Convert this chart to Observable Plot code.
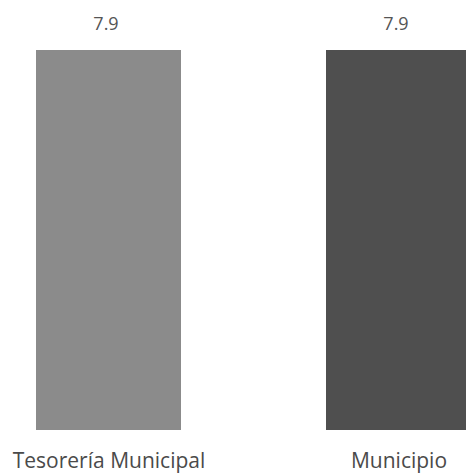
<!DOCTYPE html>
<html>
<head>
<meta charset="utf-8">
<script src="https://cdn.jsdelivr.net/npm/d3@7"></script>
<script src="https://cdn.jsdelivr.net/npm/@observablehq/plot@0.6"></script>
<style>
  html, body { margin: 0; padding: 0; background: #fff; overflow: hidden; }
  #chart svg { display: block; }
</style>
</head>
<body>
<div id="chart"></div>
<script>
const categories = ["Tesorería Municipal", "Municipio"];
const values = [7.9, 7.9];
const labels = ["7.9", "7.9"];
const colors = ["#8b8b8b", "#4f4f4f"];

const data = categories.map((c, i) => ({category: c, value: values[i], label: labels[i], color: colors[i]}));

const chart = Plot.plot({
  width: 466,
  height: 476,
  marginTop: 50,
  marginBottom: 46,
  marginLeft: 0,
  marginRight: 0,
  style: {background: "#fff", fontFamily: "'Open Sans', sans-serif"},
  x: {domain: categories, range: [35, 471], paddingInner: 0.5, paddingOuter: 0, axis: null},
  y: {domain: [0, 7.9], axis: null},
  marks: [
    Plot.barY(data, {x: "category", y: "value", fill: "color"}),
    Plot.text(data, {x: "category", y: "value", text: "label", dy: -26, dx: -3, fontSize: 18, fill: "#555"}),
    Plot.text(data, {x: "category", y: 0, text: "category", dy: 31, fontSize: 21, fill: "#4a4a4a"})
  ]
});
document.getElementById("chart").appendChild(chart);
</script>
</body>
</html>
